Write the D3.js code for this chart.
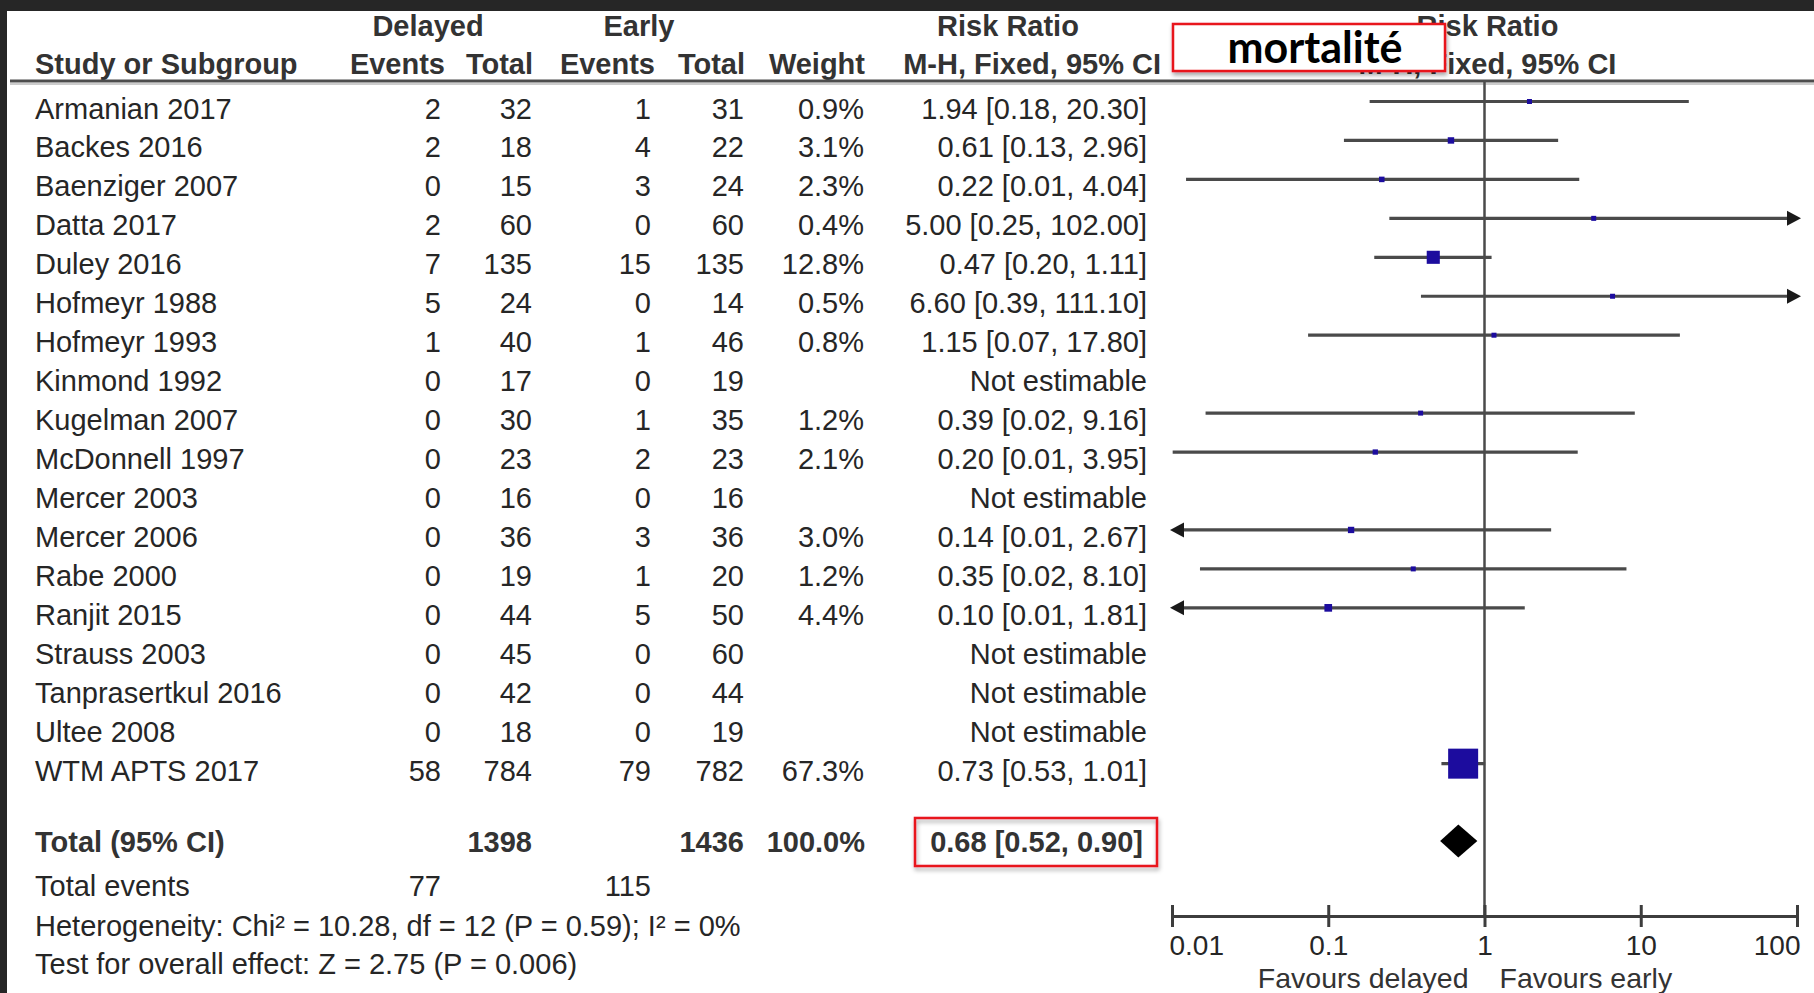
<!DOCTYPE html>
<html>
<head>
<meta charset="utf-8">
<script src="https://cdn.jsdelivr.net/npm/d3@7"></script>
<style>
  html, body { margin: 0; padding: 0; background: #fff; }
  svg { display: block; font-family: "Liberation Sans", Arial, Helvetica, sans-serif; }
</style>
</head>
<body>
<script>
// ---- Study data (risk ratio, M-H fixed effect) ----
const studies = [
  "Armanian 2017", "Backes 2016", "Baenziger 2007", "Datta 2017", "Duley 2016",
  "Hofmeyr 1988", "Hofmeyr 1993", "Kinmond 1992", "Kugelman 2007", "McDonnell 1997",
  "Mercer 2003", "Mercer 2006", "Rabe 2000", "Ranjit 2015", "Strauss 2003",
  "Tanprasertkul 2016", "Ultee 2008", "WTM APTS 2017"
];
const delayedEvents = [2, 2, 0, 2, 7, 5, 1, 0, 0, 0, 0, 0, 0, 0, 0, 0, 0, 58];
const delayedTotal  = [32, 18, 15, 60, 135, 24, 40, 17, 30, 23, 16, 36, 19, 44, 45, 42, 18, 784];
const earlyEvents   = [1, 4, 3, 0, 15, 0, 1, 0, 1, 2, 0, 3, 1, 5, 0, 0, 0, 79];
const earlyTotal    = [31, 22, 24, 60, 135, 14, 46, 19, 35, 23, 16, 36, 20, 50, 60, 44, 19, 782];
const weights       = [0.9, 3.1, 2.3, 0.4, 12.8, 0.5, 0.8, null, 1.2, 2.1, null, 3.0, 1.2, 4.4, null, null, null, 67.3];
const riskRatio     = [1.94, 0.61, 0.22, 5.00, 0.47, 6.60, 1.15, null, 0.39, 0.20, null, 0.14, 0.35, 0.10, null, null, null, 0.73];
const ciLower       = [0.184, 0.126, 0.0123, 0.246, 0.197, 0.392, 0.0743, null, 0.0164, 0.0101, null, 0.0076, 0.0151, 0.0059, null, null, null, 0.53];
const ciUpper       = [20.30, 2.96, 4.04, 102.00, 1.11, 111.10, 17.80, null, 9.16, 3.95, null, 2.67, 8.10, 1.81, null, null, null, 1.01];

// ---- Pooled result ----
const totalDelayed = 1398, totalEarly = 1436, totalWeight = 100.0;
const pooled = { rr: 0.68, lo: 0.52, hi: 0.90 };
const eventsDelayed = 77, eventsEarly = 115;
const heterogeneityText = "Heterogeneity: Chi\u00b2 = 10.28, df = 12 (P = 0.59); I\u00b2 = 0%";
const overallText = "Test for overall effect: Z = 2.75 (P = 0.006)";

// ---- Axis ----
const axisTicks = [0.01, 0.1, 1, 10, 100];
const axisTickLabels = ["0.01", "0.1", "1", "10", "100"];
const favourLeft = "Favours delayed", favourRight = "Favours early";
const outcomeLabel = "mortalit\u00e9";

// ---- Layout ----
const W = 1814, H = 993;
const FS = 29;
const ink = "#262626";
const lineInk = "#4a4a4a";
const col = { study: 35, dEv: 441, dTot: 532, eEv: 651, eTot: 744, weight: 864, rr: 1147 };
const head = { dEv: 445, dTot: 533, eEv: 655, eTot: 745, weight: 865, rr: 1161 };

const svg = d3.select("body").append("svg").attr("width", W).attr("height", H);

const defs = svg.append("defs");
const shadow = defs.append("filter").attr("id", "shadow").attr("x", "-10%").attr("y", "-20%").attr("width", "130%").attr("height", "160%");
shadow.append("feDropShadow").attr("dx", 1).attr("dy", 3).attr("stdDeviation", 2).attr("flood-color", "#000").attr("flood-opacity", 0.35);

svg.append("rect").attr("width", W).attr("height", H).attr("fill", "#fff");

const x = d3.scaleLog().domain([0.01, 100]).range([1172, 1797]);
const y = d3.scalePoint().domain(studies).range([101.5, 101.5 + 38.95 * (studies.length - 1)]);

function txt(xp, yp, s, anchor = "start", bold = false, size = FS) {
  return svg.append("text").attr("x", xp).attr("y", yp).attr("text-anchor", anchor)
    .attr("font-size", size).attr("font-weight", bold ? "bold" : "normal")
    .attr("fill", bold ? "#333" : ink).text(s);
}

// ---- Column headers ----
txt(428, 36, "Delayed", "middle", true);
txt(639, 36, "Early", "middle", true);
txt(1008, 36, "Risk Ratio", "middle", true);
txt(x(1) + 3, 36, "Risk Ratio", "middle", true);
txt(col.study, 74, "Study or Subgroup", "start", true);
txt(head.dEv, 74, "Events", "end", true);
txt(head.dTot, 74, "Total", "end", true);
txt(head.eEv, 74, "Events", "end", true);
txt(head.eTot, 74, "Total", "end", true);
txt(head.weight, 74, "Weight", "end", true);
txt(head.rr, 74, "M-H, Fixed, 95% CI", "end", true);
txt(x(1) + 3, 74, "M-H, Fixed, 95% CI", "middle", true);

svg.append("line").attr("x1", 10).attr("x2", W).attr("y1", 84).attr("y2", 84).attr("stroke", "#bbb").attr("stroke-width", 1.5);
svg.append("line").attr("x1", 10).attr("x2", W).attr("y1", 81).attr("y2", 81).attr("stroke", "#4d4d4d").attr("stroke-width", 3);

// ---- Line of no effect ----
const axisY = 916;
svg.append("line").attr("x1", x(1)).attr("x2", x(1)).attr("y1", 82).attr("y2", axisY)
  .attr("stroke", lineInk).attr("stroke-width", 2.5);

// ---- Study rows ----
const fmt2 = v => v.toFixed(2);
const markColor = "#1c0c9e";
studies.forEach((name, i) => {
  const cy = y(name);
  const by = cy + 17;
  txt(col.study, by, name);
  txt(col.dEv, by, delayedEvents[i], "end");
  txt(col.dTot, by, delayedTotal[i], "end");
  txt(col.eEv, by, earlyEvents[i], "end");
  txt(col.eTot, by, earlyTotal[i], "end");
  if (weights[i] !== null) txt(col.weight, by, weights[i].toFixed(1) + "%", "end");
  if (riskRatio[i] === null) {
    txt(col.rr, by, "Not estimable", "end");
    return;
  }
  txt(col.rr, by, `${fmt2(riskRatio[i])} [${fmt2(ciLower[i])}, ${fmt2(ciUpper[i])}]`, "end");

  const [d0, d1] = x.domain();
  const loOut = ciLower[i] < d0, hiOut = ciUpper[i] > d1;
  const x0 = loOut ? x(d0) + 8 : x(ciLower[i]);
  const x1 = hiOut ? x(d1) - 8 : x(ciUpper[i]);
  svg.append("line").attr("x1", x0).attr("x2", x1).attr("y1", cy).attr("y2", cy)
    .attr("stroke", lineInk).attr("stroke-width", 3.2);
  if (hiOut) {
    const t = x(d1) + 4;
    svg.append("path").attr("d", `M${t},${cy} L${t - 14},${cy - 7.5} L${t - 14},${cy + 7.5} Z`).attr("fill", "#1a1a1a");
  }
  if (loOut) {
    const t = x(d0) - 2;
    svg.append("path").attr("d", `M${t},${cy} L${t + 14},${cy - 7.5} L${t + 14},${cy + 7.5} Z`).attr("fill", "#1a1a1a");
  }
  const s = Math.max(5, 30 * Math.sqrt(weights[i] / 67.3));
  svg.append("rect").attr("x", x(riskRatio[i]) - s / 2).attr("y", cy - s / 2)
    .attr("width", s).attr("height", s).attr("fill", markColor);
});

// ---- Pooled rows ----
const totY = 852;
txt(col.study, totY, "Total (95% CI)", "start", true);
txt(col.dTot, totY, totalDelayed, "end", true);
txt(col.eTot, totY, totalEarly, "end", true);
txt(col.weight + 1, totY, totalWeight.toFixed(1) + "%", "end", true);
txt(1143, totY, `${fmt2(pooled.rr)} [${fmt2(pooled.lo)}, ${fmt2(pooled.hi)}]`, "end", true);

const dy = 841;
svg.append("path")
  .attr("d", `M${x(pooled.lo)},${dy} L${x(pooled.rr)},${dy - 16.5} L${x(pooled.hi)},${dy} L${x(pooled.rr)},${dy + 16.5} Z`)
  .attr("fill", "#000");

txt(col.study, 896, "Total events");
txt(col.dEv, 896, eventsDelayed, "end");
txt(col.eEv, 896, eventsEarly, "end");
txt(col.study, 936, heterogeneityText);
txt(col.study, 974, overallText);

// ---- Axis ----
const axis = d3.axisBottom(x).tickValues(axisTicks).tickSizeInner(11).tickSizeOuter(0)
  .tickFormat((d, i) => axisTickLabels[i]);
const gA = svg.append("g").attr("transform", `translate(0,${axisY})`).call(axis);
gA.select(".domain").attr("stroke", "#3d3d3d").attr("stroke-width", 3);
gA.selectAll(".tick line").attr("y1", -11).attr("y2", 11).attr("stroke", "#3d3d3d").attr("stroke-width", 3);
gA.selectAll(".tick text").attr("y", 0).attr("dy", 39).attr("font-size", 28)
  .attr("font-family", "\"Liberation Sans\", Arial, sans-serif").attr("fill", ink)
  .attr("text-anchor", (d, i) => i === 0 ? "start" : (i === axisTicks.length - 1 ? "end" : "middle"))
  .attr("dx", (d, i) => i === 0 ? -3 : (i === axisTicks.length - 1 ? 3 : 0));

txt(x(1) - 16, 988, favourLeft, "end", false, 28.5).attr("fill", "#333");
txt(x(1) + 15, 988, favourRight, "start", false, 28.5).attr("fill", "#333");

// ---- Callout boxes ----
svg.append("rect").attr("x", 1173).attr("y", 24).attr("width", 272).attr("height", 47)
  .attr("fill", "#fff").attr("stroke", "#e8141a").attr("stroke-width", 2.5).attr("filter", "url(#shadow)");
svg.append("text").attr("x", 1315).attr("y", 63).attr("text-anchor", "middle")
  .attr("font-family", "Lato, \"Open Sans\", sans-serif").attr("font-weight", "bold")
  .attr("font-size", 43).attr("fill", "#000").text(outcomeLabel);

svg.append("rect").attr("x", 915).attr("y", 818).attr("width", 242).attr("height", 48)
  .attr("fill", "none").attr("stroke", "#e8141a").attr("stroke-width", 2.5).attr("filter", "url(#shadow)");

// ---- Dark frame ----
svg.append("rect").attr("x", 0).attr("y", 0).attr("width", W).attr("height", 11).attr("fill", "#262626");
svg.append("rect").attr("x", 0).attr("y", 0).attr("width", 7).attr("height", H).attr("fill", "#262626");
</script>
</body>
</html>
